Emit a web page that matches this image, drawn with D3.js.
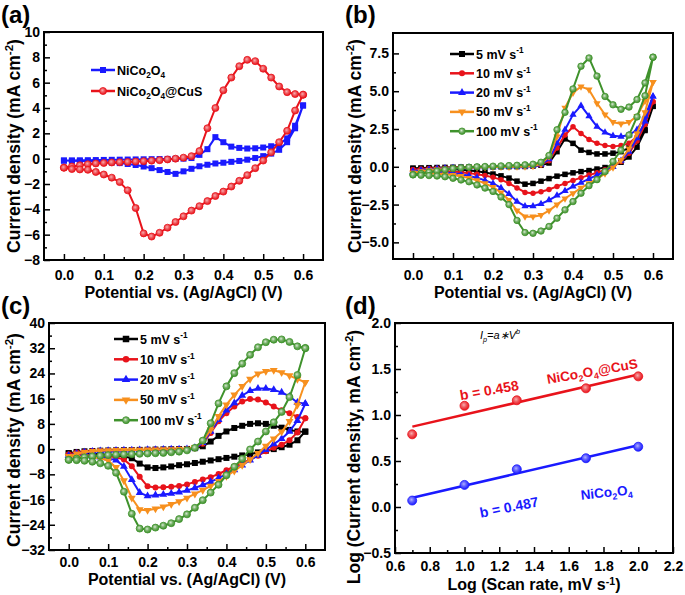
<!doctype html>
<html lang="en">
<head>
<meta charset="utf-8" />
<title>CV curves</title>
<script src="https://cdn.jsdelivr.net/npm/d3@7"></script>
<style>
  html, body { margin: 0; background: #fff; }
  svg { font-family: "Liberation Sans", Arial, sans-serif; font-weight: bold; }
</style>
</head>
<body>
<svg id="fig" width="685" height="595"></svg>
<script>
// potential grid of every branch, 0 -> 0.6 V in 0.02 V steps
const potential = d3.range(31).map(i => +(i * 0.02).toFixed(2));

// (a) NiCo2O4 vs NiCo2O4@CuS, values on the potential grid
const aNiCoAnodic   = [-0.15,-0.14,-0.13,-0.12,-0.11,-0.10,-0.09,-0.08,-0.07,-0.06,-0.05,-0.04,-0.03,-0.02,-0.01,0.00,0.05,0.30,0.75,1.70,1.30,0.95,0.85,0.80,0.82,0.88,0.98,1.15,1.60,2.60,4.20];
const aNiCoCathodic = [-0.15,-0.17,-0.18,-0.20,-0.23,-0.26,-0.30,-0.35,-0.42,-0.50,-0.62,-0.75,-0.90,-1.05,-1.20,-1.00,-0.80,-0.60,-0.48,-0.38,-0.32,-0.25,-0.18,-0.08,0.05,0.20,0.40,0.70,1.30,2.40,4.20];
const aCuSAnodic    = [-0.70,-0.62,-0.52,-0.44,-0.38,-0.34,-0.30,-0.28,-0.26,-0.23,-0.20,-0.16,-0.12,-0.06,0.00,0.08,0.20,0.60,2.40,4.00,5.40,6.40,7.30,7.80,7.70,7.10,6.40,5.70,5.25,5.10,5.05];
const aCuSCathodic  = [-0.72,-0.82,-0.85,-0.88,-1.05,-1.25,-1.50,-1.85,-2.50,-3.90,-5.90,-6.15,-5.85,-5.45,-5.00,-4.55,-4.10,-3.75,-3.35,-2.95,-2.60,-2.20,-1.75,-1.30,-0.75,-0.15,0.50,1.30,2.20,3.80,5.05];

// (b) NiCo2O4 at different scan rates
const bAnodic = [
  [-0.10,-0.08,-0.06,-0.05,-0.04,-0.03,-0.02,-0.02,-0.01,-0.01,0.00,0.00,0.01,0.01,0.02,0.05,0.10,0.25,1.00,1.85,1.55,1.10,0.95,0.85,0.85,0.90,1.00,1.25,1.70,2.45,4.00],
  [-0.20,-0.15,-0.12,-0.10,-0.08,-0.06,-0.05,-0.04,-0.03,-0.02,-0.01,0.00,0.01,0.02,0.03,0.05,0.12,0.40,1.25,2.10,2.65,2.20,1.80,1.55,1.40,1.35,1.40,1.55,2.00,2.90,4.30],
  [-0.30,-0.22,-0.17,-0.13,-0.10,-0.08,-0.06,-0.05,-0.04,-0.03,-0.02,-0.01,0.00,0.01,0.02,0.05,0.15,0.50,1.55,2.45,3.45,4.05,3.35,2.65,2.27,2.05,2.00,2.10,2.45,3.35,4.65],
  [-0.40,-0.30,-0.23,-0.18,-0.14,-0.10,-0.08,-0.06,-0.04,-0.03,-0.02,-0.01,0.00,0.01,0.02,0.05,0.18,0.68,2.00,3.90,4.90,5.30,5.10,4.20,3.45,2.95,2.85,2.95,3.35,4.35,5.60],
  [-0.53,-0.45,-0.35,-0.28,-0.20,-0.12,-0.07,-0.03,0.00,0.02,0.04,0.06,0.08,0.10,0.13,0.17,0.30,0.75,2.45,3.60,5.15,6.65,7.20,6.00,4.65,4.10,3.80,3.95,4.45,5.55,7.25]
];
const bCathodic = [
  [-0.10,-0.11,-0.12,-0.13,-0.15,-0.17,-0.20,-0.25,-0.30,-0.38,-0.48,-0.60,-0.75,-0.95,-1.15,-1.10,-0.95,-0.78,-0.62,-0.50,-0.40,-0.32,-0.25,-0.15,-0.05,0.10,0.30,0.65,1.30,2.40,4.00],
  [-0.20,-0.21,-0.23,-0.25,-0.28,-0.32,-0.36,-0.42,-0.50,-0.58,-0.70,-0.85,-1.10,-1.40,-1.70,-1.75,-1.65,-1.50,-1.30,-1.10,-0.90,-0.72,-0.55,-0.40,-0.20,0.00,0.35,0.90,1.70,2.80,4.30],
  [-0.30,-0.31,-0.33,-0.35,-0.38,-0.43,-0.50,-0.60,-0.72,-0.90,-1.10,-1.40,-1.80,-2.30,-2.60,-2.60,-2.45,-2.20,-1.90,-1.60,-1.30,-1.05,-0.80,-0.55,-0.30,0.00,0.40,1.00,1.90,3.00,4.65],
  [-0.40,-0.41,-0.43,-0.46,-0.50,-0.55,-0.62,-0.75,-0.90,-1.10,-1.35,-1.70,-2.20,-2.90,-3.30,-3.30,-3.20,-2.90,-2.50,-2.10,-1.75,-1.40,-1.10,-0.80,-0.45,-0.05,0.45,1.20,2.20,3.60,5.60],
  [-0.53,-0.56,-0.58,-0.61,-0.66,-0.76,-0.87,-0.99,-1.20,-1.41,-1.63,-2.00,-2.50,-3.55,-4.35,-4.40,-4.25,-3.95,-3.40,-2.85,-2.30,-1.75,-1.25,-0.85,-0.32,0.35,1.10,2.10,3.30,4.70,7.25]
];

// (c) NiCo2O4@CuS at different scan rates
const cAnodic = [
  [-1.30,-0.90,-0.70,-0.60,-0.50,-0.45,-0.40,-0.35,-0.30,-0.25,-0.20,-0.15,-0.10,-0.05,0.00,0.05,0.30,0.90,2.40,4.20,5.60,6.70,7.40,8.00,8.20,8.00,7.40,6.80,6.10,5.60,5.50],
  [-1.70,-1.10,-0.80,-0.60,-0.50,-0.45,-0.40,-0.35,-0.30,-0.25,-0.20,-0.15,-0.10,-0.05,0.00,0.05,0.30,1.70,5.10,8.80,11.40,13.50,15.10,15.90,15.70,14.80,13.50,12.30,11.40,10.20,9.80],
  [-2.10,-1.40,-1.00,-0.80,-0.60,-0.50,-0.45,-0.40,-0.35,-0.30,-0.25,-0.20,-0.15,-0.10,-0.05,0.00,0.40,2.00,5.60,9.30,12.30,14.60,17.00,18.50,19.20,19.20,18.80,18.00,16.70,14.80,14.40],
  [-2.30,-1.50,-1.00,-0.70,-0.50,-0.45,-0.40,-0.35,-0.30,-0.30,-0.25,-0.20,-0.15,-0.10,-0.05,0.00,0.60,2.40,6.10,10.40,14.10,17.20,19.90,22.20,23.90,24.70,25.00,24.30,23.30,22.20,21.20],
  [-3.40,-3.00,-2.60,-2.30,-2.10,-1.90,-1.80,-1.70,-1.60,-1.50,-1.40,-1.30,-1.20,-1.00,-0.80,-0.40,0.40,2.70,8.20,14.50,19.90,24.10,27.10,29.90,32.30,33.90,34.70,34.80,34.00,32.60,32.10]
];
const cCathodic = [
  [-1.30,-1.35,-1.40,-1.50,-1.60,-1.80,-2.00,-2.30,-2.90,-4.60,-5.80,-6.00,-5.80,-5.50,-5.10,-4.80,-4.40,-4.00,-3.60,-3.20,-2.80,-2.40,-2.00,-1.60,-1.05,-0.50,0.00,0.60,1.40,2.80,5.60],
  [-1.70,-1.80,-1.90,-2.00,-2.10,-2.30,-2.60,-3.30,-5.40,-8.80,-11.80,-12.20,-12.10,-11.90,-11.70,-11.20,-10.40,-9.60,-8.90,-7.90,-6.70,-5.50,-4.50,-3.30,-2.10,-0.70,0.40,1.40,2.80,5.30,9.80],
  [-2.10,-2.20,-2.30,-2.40,-2.60,-2.90,-3.50,-5.50,-9.70,-13.80,-14.90,-14.60,-14.40,-14.10,-13.70,-13.10,-12.30,-11.40,-10.40,-9.20,-7.90,-6.60,-5.10,-3.50,-2.00,-0.20,1.60,3.30,5.60,9.00,14.40],
  [-2.30,-2.40,-2.50,-2.60,-2.90,-3.60,-5.80,-10.00,-15.50,-19.20,-19.40,-18.90,-18.30,-17.50,-16.60,-15.50,-14.20,-13.00,-11.70,-10.20,-8.60,-6.90,-5.10,-3.30,-1.30,1.00,3.30,5.50,8.80,14.00,21.20],
  [-3.40,-3.50,-3.70,-4.00,-4.50,-5.30,-7.50,-13.50,-20.50,-25.20,-25.50,-24.90,-24.30,-23.50,-22.20,-20.70,-18.60,-16.20,-13.80,-11.30,-8.30,-5.60,-3.10,-0.10,2.40,5.60,8.50,11.80,16.50,23.50,32.00]
];

const rateLabels = ["5", "10", "20", "50", "100"];
const rateColors = ["#000000", "#e8131b", "#1a1aff", "#f7901e", "#3f922c"];
const rateShapes = ["square", "circle", "triUp", "triDown", "sphere"];

// (d) log peak current vs log scan rate
const logRate = [0.699, 1.0, 1.301, 1.699, 2.0];
const logCuS  = [0.79, 1.10, 1.16, 1.29, 1.42];
const logNiCo = [0.07, 0.24, 0.41, 0.53, 0.655];

const svg = d3.select("#fig");
const defs = svg.append("defs");

function sphereGrad(id, color, light) {
  const g = defs.append("radialGradient").attr("id", id)
    .attr("cx", "42%").attr("cy", "40%").attr("r", "60%");
  g.append("stop").attr("offset", "0%").attr("stop-color", d3.interpolateRgb("#ffffff", color)(light));
  g.append("stop").attr("offset", "45%").attr("stop-color", d3.interpolateRgb("#ffffff", color)(0.7));
  g.append("stop").attr("offset", "100%").attr("stop-color", color);
}
sphereGrad("sph-red", "#e8131b", 0.35);
sphereGrad("sph-green", "#3f922c", 0.2);
sphereGrad("sph-blue", "#1a1aff", 0.35);

function marker(g, shape, cx, cy, s, color, grad) {
  if (shape === "square") {
    g.append("rect").attr("x", cx - s / 2).attr("y", cy - s / 2)
      .attr("width", s).attr("height", s).attr("fill", color);
  } else if (shape === "circle") {
    g.append("circle").attr("cx", cx).attr("cy", cy).attr("r", s / 2).attr("fill", color);
  } else if (shape === "sphere") {
    g.append("circle").attr("cx", cx).attr("cy", cy).attr("r", s / 2)
      .attr("fill", `url(#${grad})`).attr("stroke", color).attr("stroke-width", 0.8);
  } else {
    const p = d3.symbol(d3.symbolTriangle, s * s * 0.75)();
    g.append("path").attr("d", p).attr("fill", color)
      .attr("transform", `translate(${cx},${cy})` + (shape === "triDown" ? " rotate(180)" : ""));
  }
}

// text with sub/superscript parts: [["NiCo"],["2","sub"],...]
function rich(t, parts, size, supShift = 0.42) {
  let shift = 0;
  parts.forEach(([s, kind]) => {
    const target = kind === "sup" ? -size * supShift : kind === "sub" ? size * 0.25 : 0;
    t.append("tspan").attr("dy", target - shift)
      .attr("font-size", kind ? size * 0.66 : size).text(s);
    shift = target;
  });
  return t;
}

const niCoParts = [["NiCo"], ["2", "sub"], ["O"], ["4", "sub"]];
const cusParts = niCoParts.concat([["@CuS"]]);
const rateParts = r => [[`${r} mV s`], ["-1", "sup"]];

function panel(o) {
  const x = d3.scaleLinear().domain(o.xd).range([o.l, o.r]);
  const y = d3.scaleLinear().domain(o.yd).range([o.b, o.t]);
  const g = svg.append("g");

  const ax = (axis, tr) => {
    const a = g.append("g").attr("transform", tr).call(axis);
    a.select(".domain").remove();
    a.selectAll("line").attr("stroke", "#000").attr("stroke-width", 1.5);
    a.selectAll("text").attr("font-size", 14).attr("font-family", null).attr("fill", "#000");
    return a;
  };
  ax(d3.axisBottom(x).tickValues(o.xMinor).tickSize(-3).tickFormat(""), `translate(0,${o.b})`);
  ax(d3.axisBottom(x).tickValues(o.xTicks).tickSizeInner(-6).tickSizeOuter(0)
      .tickPadding(o.xPad).tickFormat(o.xFmt), `translate(0,${o.b})`);
  ax(d3.axisLeft(y).tickValues(o.yMinor).tickSize(-3).tickFormat(""), `translate(${o.l},0)`);
  ax(d3.axisLeft(y).tickValues(o.yTicks).tickSizeInner(-6).tickSizeOuter(0)
      .tickPadding(4).tickFormat(o.yFmt), `translate(${o.l},0)`);

  rich(svg.append("text").attr("x", (o.l + o.r) / 2).attr("y", o.xTitleY)
    .attr("text-anchor", "middle"), o.xTitle, 16, 0.34);
  rich(svg.append("text").attr("text-anchor", "middle")
    .attr("transform", `translate(${o.yTitleX},${o.yTitleMid || (o.t + o.b) / 2}) rotate(-90)`), o.yTitle, 17.5);
  svg.append("text").attr("x", o.tagX).attr("y", o.tagY).attr("font-size", 24).text(o.tag);

  const plot = svg.append("g");
  const frame = () => svg.append("rect").attr("x", o.l).attr("y", o.t)
    .attr("width", o.r - o.l).attr("height", o.b - o.t)
    .attr("fill", "none").attr("stroke", "#000").attr("stroke-width", 2);
  return { x, y, plot, frame };
}

function cvLoop(p, anodic, cathodic, color, shape, size, grad) {
  const pts = potential.map((v, i) => [v, anodic[i]])
    .concat(potential.map((v, i) => [v, cathodic[i]]).reverse());
  const line = d3.line().x(d => p.x(d[0])).y(d => p.y(d[1]));
  p.plot.append("path").attr("d", line(pts)).attr("fill", "none")
    .attr("stroke", color).attr("stroke-width", 2).attr("stroke-linejoin", "round");
  const mg = p.plot.append("g");
  pts.forEach(d => marker(mg, shape, p.x(d[0]), p.y(d[1]), size, color, grad));
}

function legendRow(x, y, color, shape, size, grad, parts) {
  const g = svg.append("g");
  g.append("line").attr("x1", x).attr("x2", x + 24).attr("y1", y).attr("y2", y)
    .attr("stroke", color).attr("stroke-width", 2.5);
  marker(g, shape, x + 12, y, size, color, grad);
  rich(g.append("text").attr("x", x + 26).attr("y", y + 4.5), parts, 12.5);
}

const potTitle = [["Potential vs. (Ag/AgCl) (V)"]];
const cdTitle = [["Current density (mA cm"], ["-2", "sup"], [")"]];
const potTicks = d3.range(0, 0.61, 0.1);
const potMinor = d3.range(0.05, 0.6, 0.1);

// ---- (a)
const pa = panel({
  l: 44, r: 323, t: 32, b: 260, xd: [-0.05, 0.65], yd: [-8, 10],
  xTicks: potTicks, xMinor: potMinor, xFmt: d3.format(".1f"), xPad: 10,
  yTicks: d3.range(-8, 11, 2), yMinor: d3.range(-7, 10, 2), yFmt: d3.format("d"),
  xTitle: potTitle, yTitle: cdTitle, xTitleY: 298, yTitleX: 20, tag: "(a)", tagX: 1, tagY: 23
});
cvLoop(pa, aNiCoAnodic, aNiCoCathodic, "#1a1aff", "square", 6);
cvLoop(pa, aCuSAnodic, aCuSCathodic, "#e8131b", "sphere", 7, "sph-red");
pa.frame();
legendRow(91, 70, "#1a1aff", "square", 6, null, niCoParts);
legendRow(91, 91, "#e8131b", "sphere", 7, "sph-red", cusParts);

// ---- (b)
const pb = panel({
  l: 393, r: 673, t: 33, b: 259, xd: [-0.05, 0.65], yd: [-6.1, 8.85],
  xTicks: potTicks, xMinor: potMinor, xFmt: d3.format(".1f"), xPad: 11,
  yTicks: [-5, -2.5, 0, 2.5, 5, 7.5], yMinor: [-3.75, -1.25, 1.25, 3.75, 6.25], yFmt: d3.format(".1f"),
  xTitle: potTitle, yTitle: cdTitle, xTitleY: 298, yTitleX: 361, tag: "(b)", tagX: 345, tagY: 23
});
rateLabels.forEach((r, i) => cvLoop(pb, bAnodic[i], bCathodic[i], rateColors[i], rateShapes[i],
  i === 4 ? 6.5 : 5.5, "sph-green"));
pb.frame();
rateLabels.forEach((r, i) => legendRow(450, 54 + i * 19.3, rateColors[i], rateShapes[i],
  i === 4 ? 6.5 : 6, "sph-green", rateParts(r)));

// ---- (c)
const pc = panel({
  l: 49, r: 325, t: 323, b: 550, xd: [-0.05, 0.65], yd: [-32, 40],
  xTicks: potTicks, xMinor: potMinor, xFmt: d3.format(".1f"), xPad: 7,
  yTicks: d3.range(-32, 41, 8), yMinor: d3.range(-28, 40, 8), yFmt: d3.format("d"),
  xTitle: potTitle, yTitle: cdTitle, xTitleY: 585, yTitleX: 20, yTitleMid: 440,
  tag: "(c)", tagX: 1, tagY: 314
});
rateLabels.forEach((r, i) => cvLoop(pc, cAnodic[i], cCathodic[i], rateColors[i], rateShapes[i],
  i === 4 ? 7 : 6, "sph-green"));
pc.frame();
rateLabels.forEach((r, i) => legendRow(114, 339 + i * 20.3, rateColors[i], rateShapes[i],
  i === 4 ? 7 : 6.5, "sph-green", rateParts(r)));

// ---- (d)
const pd = panel({
  l: 395, r: 673, t: 323, b: 553, xd: [0.6, 2.2], yd: [-0.5, 2.0],
  xTicks: d3.range(0.6, 2.21, 0.2), xMinor: d3.range(0.7, 2.2, 0.2), xFmt: d3.format(".1f"), xPad: 8,
  yTicks: d3.range(-0.5, 2.01, 0.5), yMinor: d3.range(-0.25, 2.0, 0.5), yFmt: d3.format(".1f"),
  xTitle: [["Log (Scan rate, mV s"], ["-1", "sup"], [")"]],
  yTitle: [["Log (Current density, mA cm"], ["-2", "sup"], [")"]],
  xTitleY: 590, yTitleX: 360, yTitleMid: 457, tag: "(d)", tagX: 345, tagY: 314
});

function fit(xs, ys) {
  const mx = d3.mean(xs), my = d3.mean(ys);
  const slope = d3.sum(xs, (v, i) => (v - mx) * (ys[i] - my)) / d3.sum(xs, v => (v - mx) ** 2);
  return v => my + slope * (v - mx);
}
[[logCuS, "#e8131b", "sph-red"], [logNiCo, "#1a1aff", "sph-blue"]].forEach(([ys, color, grad]) => {
  const f = fit(logRate, ys);
  const ends = [0.7, 2.0];
  pd.plot.append("line")
    .attr("x1", pd.x(ends[0])).attr("y1", pd.y(f(ends[0])))
    .attr("x2", pd.x(ends[1])).attr("y2", pd.y(f(ends[1])))
    .attr("stroke", color).attr("stroke-width", 2.5);
  logRate.forEach((v, i) => marker(pd.plot, "sphere", pd.x(v), pd.y(ys[i]), 9, color, grad));
});
pd.frame();

const note = (x, y, rot, color, parts, size) =>
  rich(svg.append("text").attr("text-anchor", "middle").attr("fill", color)
    .attr("transform", `translate(${x},${y}) rotate(${rot})`), parts, size);

rich(svg.append("text").attr("x", 500).attr("y", 339).attr("text-anchor", "middle")
  .attr("font-weight", "normal").attr("font-style", "italic"),
  [["I"], ["p", "sub"], ["=a", ""], ["\u2217"], ["V"], ["b", "sup"]], 11);
note(490, 395, -10, "#e8131b", [["b = 0.458"]], 14);
note(593, 376, -10, "#e8131b", cusParts, 13.5);
note(607, 497, -6, "#1a1aff", niCoParts, 13.5);
note(510, 512, -11, "#1a1aff", [["b = 0.487"]], 14);
</script>
</body>
</html>
